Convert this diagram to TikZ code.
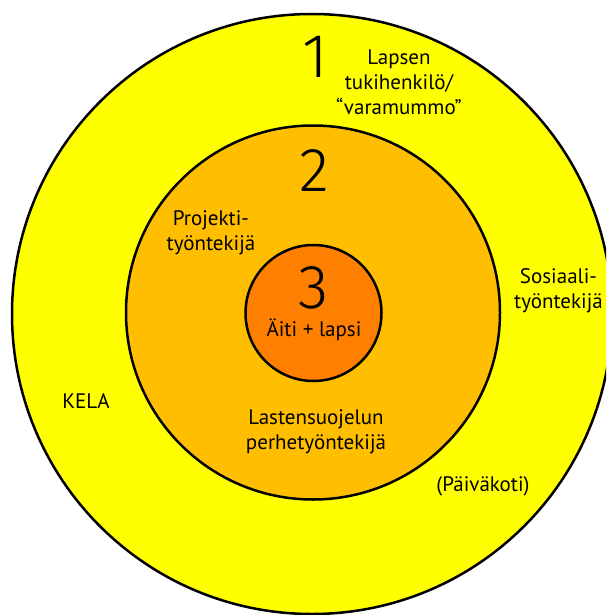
\documentclass[tikz,border=0pt]{standalone}
\usepackage{fontspec}
\setmainfont{PT Sans}
\newfontfamily\numfont{Fira Sans Light}
\usetikzlibrary{positioning}
\definecolor{outerfill}{RGB}{255,255,0}
\definecolor{midfill}{RGB}{255,191,0}
\definecolor{innerfill}{RGB}{255,127,0}

\begin{document}
\begin{tikzpicture}[x=0.5pt,y=-0.5pt,
  ring/.style={circle,draw,line width=1.25pt,inner sep=0pt},
  num/.style={inner sep=0pt,font=\numfont\fontsize{31}{31}\selectfont},
  lbl/.style={inner sep=0pt,align=center,font=\fontsize{10.5}{12.5}\selectfont}]
\clip (0,0) rectangle (606,615);
% rings
\node[ring,fill=outerfill,minimum size=300pt] (ring1) at (312,314) {};
\node[ring,fill=midfill,minimum size=187pt] (ring2) at (313,312.5) {};
\node[ring,fill=innerfill,minimum size=68pt] (ring3) at (313.5,313) {};
% numbers
\node[num] (n1) at (315,57) {1};
\node[num] (n2) at (314,171) {2};
\node[num] (n3) at (314,288) {3};
% labels
\node[lbl] (tuki) at (399,82) {Lapsen\\tukihenkilö/\\“varamummo”};
\node[lbl] (projekti) at (211,233) {Projekti-\\työntekijä};
\node[lbl] (aiti) at (314,330) {Äiti + lapsi};
\node[lbl] (sosiaali) at (558.5,291) {Sosiaali-\\työntekijä};
\node[lbl] (kela) at (86,401) {KELA};
\node[lbl] (perhe) at (316,432) {Lastensuojelun\\perhetyöntekijä};
\node[lbl] (paivakoti) at (483,486) {(Päiväkoti)};
\end{tikzpicture}
\end{document}
